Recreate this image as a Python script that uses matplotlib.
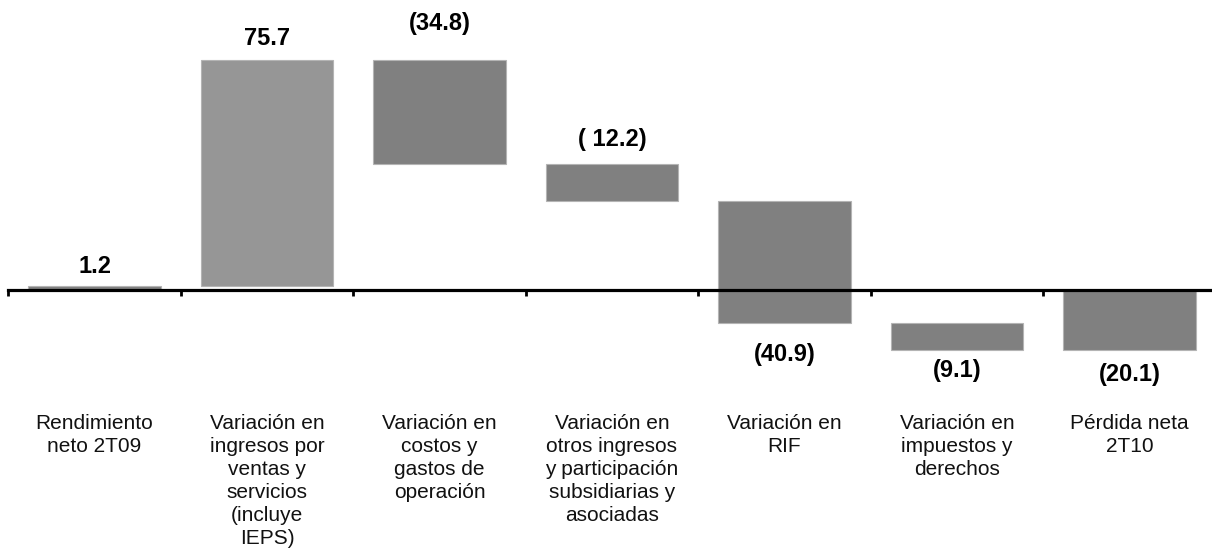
import matplotlib
matplotlib.use("Agg")
import matplotlib.pyplot as plt
from matplotlib.transforms import blended_transform_factory

plt.rcParams['font.family'] = ['Liberation Sans', 'DejaVu Sans']

categories = [
    "Rendimiento\nneto 2T09",
    "Variación en\ningresos por\nventas y\nservicios\n(incluye\nIEPS)",
    "Variación en\ncostos y\ngastos de\noperación",
    "Variación en\notros ingresos\ny participación\nsubsidiarias y\nasociadas",
    "Variación en\nRIF",
    "Variación en\nimpuestos y\nderechos",
    "Pérdida neta\n2T10",
]
changes = [1.2, 75.7, -34.8, -12.2, -40.9, -9.1]
total = -20.1
value_labels = ["1.2", "75.7", "(34.8)", "( 12.2)", "(40.9)", "(9.1)", "(20.1)"]

# styles
bar_colors = ["#808080", "#969696", "#808080", "#808080", "#808080", "#808080", "#808080"]
label_above = [True, True, True, True, False, False, False]
label_offsets_px = [20, 22, 37, 25, 32, 21, 24]

fig = plt.figure(figsize=(12.12, 5.52), dpi=100)
ax = fig.add_axes([8.25 / 1212, 0, 1207.5 / 1212, 1])

bottoms = []
heights = []
run = 0.0
for c in changes:
    if c >= 0:
        bottoms.append(run)
        heights.append(c)
    else:
        bottoms.append(run + c)
        heights.append(-c)
    run += c
bottoms.append(min(0, total))
heights.append(abs(total))

x = list(range(len(categories)))
ax.bar(x, heights, bottom=bottoms, width=0.771, color=bar_colors,
       edgecolor="#b4b4b4", linewidth=0.8, zorder=2)

ax.set_xlim(-0.5, len(categories) - 0.5)
ax.set_ylim(-87.77, 97.15)

for s in ["top", "right", "left"]:
    ax.spines[s].set_visible(False)
ax.spines["bottom"].set_position(("data", 0))
ax.spines["bottom"].set_linewidth(2.3)
ax.spines["bottom"].set_zorder(3)
ax.set_xticks([i - 0.5 for i in range(len(categories) + 1)])
ax.set_xticklabels([])
ax.tick_params(axis="x", direction="out", length=4, width=2.0, color="black")
ax.set_yticks([])

for i, lab in enumerate(value_labels):
    if label_above[i]:
        y = bottoms[i] + heights[i]
        off = label_offsets_px[i]
    else:
        y = bottoms[i]
        off = -label_offsets_px[i]
    ax.annotate(lab, (x[i], y), xytext=(0, off), textcoords="offset pixels",
                ha="center", va="center", fontsize=17, fontweight="bold", color="black")

trans = blended_transform_factory(ax.transData, ax.transAxes)
for i, cat in enumerate(categories):
    ax.text(x[i], 1 - 414 / 552, cat, transform=trans, ha="center", va="top",
            fontsize=15, linespacing=1.26, color="#111111")

fig.savefig("out.png", dpi=100)
